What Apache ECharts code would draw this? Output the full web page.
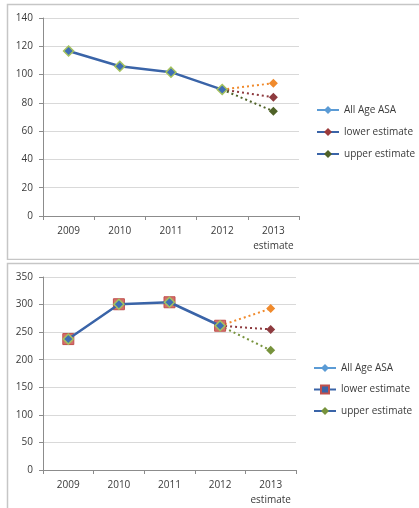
<!DOCTYPE html>
<html>
<head>
<meta charset="utf-8">
<script src="https://cdn.jsdelivr.net/npm/echarts@6/dist/echarts.min.js"></script>
<style>
  html, body { margin: 0; padding: 0; background: #fff; }
  #c1 { position: absolute; left: 0; top: 0; width: 419px; height: 260px; }
  #c2 { position: absolute; left: 0; top: 260px; width: 419px; height: 248px; }
</style>
</head>
<body>
<div id="c1"></div>
<div id="c2"></div>
<script>
// ---- data ----
const years = ['2009', '2010', '2011', '2012', '2013\nestimate'];
const legendNames = ['All Age ASA', 'lower estimate', 'upper estimate'];

// top chart
const topActual = [116.7, 105.9, 101.7, 89.4];
const topEstimates2013 = [93.9, 84.0, 74.1]; // All Age ASA, lower, upper
const topTicks = [0, 140, 20];               // min, max, interval

// bottom chart
const botActual = [237.4, 300.6, 304.2, 261.6];
const botEstimates2013 = [292.8, 255.0, 217.0];
const botTicks = [0, 350, 50];

// ---- styles ----
const FONT = 'Open Sans';
const TXT = '#3a3a3a';
const AXIS = '#8c8c8c';
const GRID = '#d9d9d9';
const MAIN = '#3a64a8';

function segData(actual, v) {
  const d = actual.map(() => '-');
  d[actual.length - 1] = { value: actual[actual.length - 1], symbol: 'none' };
  d.push(v);
  return d;
}

function buildOption(cfg) {
  const { actual, est, ticks, grid, legendTop, legendLeft, legendGap, square, estColors, legendMarks, frameY, frameH } = cfg;
  const series = [];
  est.forEach((v, i) => {
    series.push({
      name: 'seg' + i, type: 'line', data: segData(actual, v),
      symbol: 'diamond', symbolSize: 9,
      lineStyle: { color: estColors[i], width: 2, type: [2, 3] },
      itemStyle: { color: estColors[i] },
      animation: false, z: 2
    });
  });
  if (square) {
    series.push({
      name: 'sq', type: 'line', data: actual.concat(['-']),
      symbol: 'rect', symbolSize: 11,
      lineStyle: { width: 0, opacity: 0 },
      itemStyle: { color: '#d46f6b', borderColor: '#c0504d', borderWidth: 1 },
      animation: false, z: 3
    });
  }
  series.push({
    name: 'main', type: 'line', data: actual.concat(['-']),
    symbol: 'diamond', symbolSize: 10,
    lineStyle: { color: MAIN, width: 2.5 },
    itemStyle: { color: '#3f6fb5', borderColor: '#a4c25e', borderWidth: 1.5 },
    animation: false, z: 4
  });
  legendNames.forEach((n, i) => {
    const m = legendMarks[i];
    series.push({
      name: n, type: 'line', data: [],
      symbol: m.symbol, symbolSize: 8,
      lineStyle: { color: m.line, width: 2.5 },
      itemStyle: { color: m.fill, borderColor: m.border || m.fill, borderWidth: m.border ? 1.5 : 0 },
      animation: false
    });
  });

  return {
    animation: false,
    textStyle: { fontFamily: FONT },
    graphic: [{
      type: 'rect', silent: true,
      shape: { x: 7.5, y: frameY, width: 420, height: frameH },
      style: { fill: 'none', stroke: '#c6c6c6', lineWidth: 1.5 }
    }],
    grid: Object.assign({ containLabel: false }, grid),
    legend: {
      orient: 'vertical', left: legendLeft, top: legendTop, padding: 0,
      itemWidth: 22, itemHeight: 10, itemGap: legendGap,
      data: legendNames,
      textStyle: { fontFamily: FONT, fontSize: 10, color: TXT },
      selectedMode: false
    },
    xAxis: {
      type: 'category', data: years, boundaryGap: true,
      axisLine: { lineStyle: { color: AXIS, width: 1 } },
      axisTick: { show: true, length: 4, lineStyle: { color: AXIS } },
      axisLabel: { interval: 0, fontFamily: FONT, fontSize: 10, color: TXT, margin: 8, lineHeight: 15 }
    },
    yAxis: {
      type: 'value', min: ticks[0], max: ticks[1], interval: ticks[2],
      axisLine: { show: true, lineStyle: { color: AXIS, width: 1 } },
      axisTick: { show: true, length: 4, lineStyle: { color: AXIS } },
      splitLine: { lineStyle: { color: GRID, width: 1 } },
      axisLabel: { fontFamily: FONT, fontSize: 10, color: TXT, margin: 10 }
    },
    series
  };
}

const c1 = echarts.init(document.getElementById('c1'), null, { renderer: 'canvas' });
c1.setOption(buildOption({
  actual: topActual, est: topEstimates2013, ticks: topTicks,
  grid: { left: 43, top: 18, width: 256, height: 198 },
  legendLeft: 316, legendTop: 105, legendGap: 12,
  square: false,
  estColors: ['#f08a2c', '#8e3b3f', '#4f6228'],
  legendMarks: [
    { line: '#5b9bd5', fill: '#5b9bd5', symbol: 'diamond' },
    { line: MAIN, fill: '#9b3b3b', symbol: 'diamond' },
    { line: MAIN, fill: '#4f6228', symbol: 'diamond' }
  ],
  frameY: 4.5, frameH: 255
}));

const c2 = echarts.init(document.getElementById('c2'), null, { renderer: 'canvas' });
c2.setOption(buildOption({
  actual: botActual, est: botEstimates2013, ticks: botTicks,
  grid: { left: 43, top: 17, width: 253, height: 194 },
  legendLeft: 313, legendTop: 103, legendGap: 11.5,
  square: true,
  estColors: ['#f08a2c', '#8e3b3f', '#77933c'],
  legendMarks: [
    { line: '#5b9bd5', fill: '#5b9bd5', symbol: 'diamond' },
    { line: MAIN, fill: MAIN, border: '#c0504d', symbol: 'rect' },
    { line: MAIN, fill: '#77933c', symbol: 'diamond' }
  ],
  frameY: 3.5, frameH: 260
}));
</script>
</body>
</html>
